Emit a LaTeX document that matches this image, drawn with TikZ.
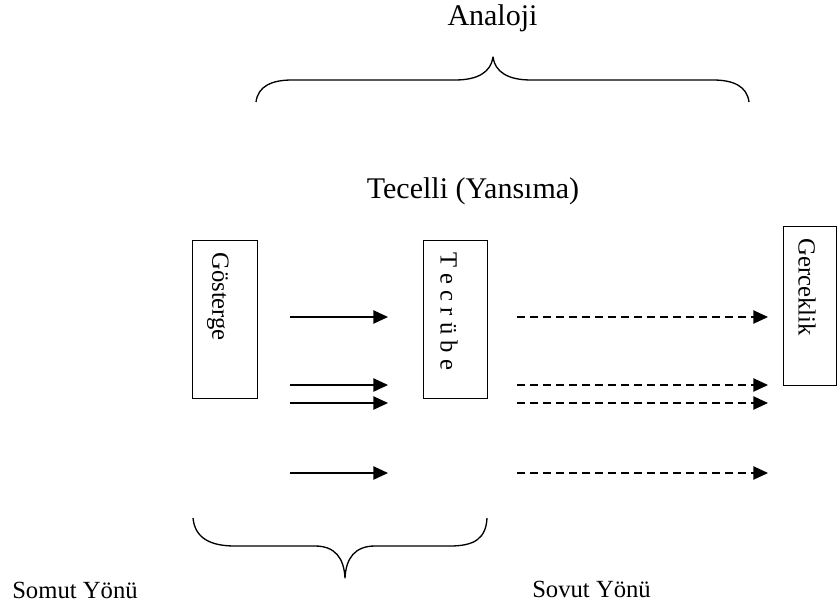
\documentclass[tikz,border=0pt]{standalone}
\usepackage{fontspec}
\setmainfont{Liberation Serif}
\usetikzlibrary{arrows.meta}
\begin{document}
\begin{tikzpicture}[x=0.75pt,y=-0.75pt,
  box/.style={draw,line width=0.8pt,inner sep=0pt,anchor=north west},
  boxlabel/.style={rotate=-90,anchor=west,inner sep=0pt,font=\fontsize{18.5}{18}\selectfont},
  title/.style={anchor=base,inner sep=0pt,font=\fontsize{22.5}{24}\selectfont},
  side/.style={anchor=base west,inner sep=0pt,font=\fontsize{18.5}{20}\selectfont},
  flow/.style={line width=1pt,-{Triangle[length=11pt,width=10pt]}},
  flowdash/.style={flow,dash pattern=on 6pt off 3.75pt},
  brace/.style={line width=1pt,line join=round}]
\useasboundingbox (0,0) rectangle (838,610);

% headings
\node[title] (analoji) at (492.5,26) {Analoji};
\node[title] (tecelli) at (473,198) {Tecelli (Yansıma)};
\node[side] (somut) at (12,598) {Somut Yönü};
\node[side] (soyut) at (532,597) {Sovut Yönü};

% upper brace
\draw[brace] (256,102) .. controls (258,86) and (272,80) .. (292,80) -- (455,80)
  .. controls (478,80) and (491,72) .. (493,57)
  .. controls (495,72) and (508,80) .. (531,80) -- (713,80)
  .. controls (733,80) and (747,86) .. (749,102);

% lower brace
\draw[brace] (193,518) .. controls (195,538) and (210,546) .. (235,546) -- (315,546)
  .. controls (335,546) and (344,558) .. (345,578)
  .. controls (346,558) and (355,546) .. (375,546) -- (450,546)
  .. controls (475,546) and (486,538) .. (487,518);

% boxes (sizes in pt: 1 unit = 0.75pt)
\node[box,minimum width=48.75pt,minimum height=118.5pt] (gosterge) at (192,240) {};
\node[box,minimum width=48pt,minimum height=118.5pt] (tecrube) at (423,240) {};
\node[box,minimum width=39.75pt,minimum height=119.25pt] (gerceklik) at (783,226) {};
\node[boxlabel] (lg) at (218,252) {Gösterge};
\node[boxlabel] (lt) at (449,252) {T e c r ü b e};
\node[boxlabel] (lr) at (807,238) {Gerceklik};

% arrow end points
\foreach \i/\y in {1/317,2/385,3/403,4/473}{
  \coordinate (s\i) at (290,\y);
  \coordinate (m\i) at (388,\y);
  \coordinate (d\i) at (517,\y);
  \coordinate (e\i) at (768,\y);
}
\foreach \i in {1,2,3,4}{
  \draw[flow] (s\i) -- (m\i);
  \draw[flowdash] (d\i) -- (e\i);
}
\end{tikzpicture}
\end{document}
